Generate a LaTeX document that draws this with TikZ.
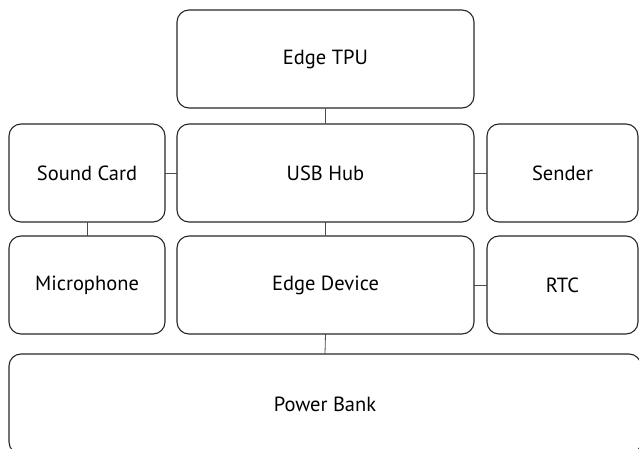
\documentclass[tikz,border=0pt]{standalone}
\usepackage{fontspec}
\setmainfont{PT Sans}
\begin{document}
\begin{tikzpicture}[x=1pt,y=-1pt,
  block/.style={draw=black!85,line width=1.1pt,rounded corners=12pt,
    inner sep=0pt,outer sep=0pt,font=\fontsize{20.5}{24}\selectfont},
  link/.style={draw=black!70,line width=0.8pt}]
\useasboundingbox (0,0) rectangle (639,449);
\clip (0,0) rectangle (639,449);
% top row
\node[block,minimum width=297pt,minimum height=98pt] (tpu) at (325.5,59) {Edge TPU};
% middle rows
\node[block,minimum width=156pt,minimum height=98pt] (sound) at (87,173) {Sound Card};
\node[block,minimum width=297pt,minimum height=98pt] (usb) at (325.5,173) {USB Hub};
\node[block,minimum width=151pt,minimum height=98pt] (sender) at (562.5,173) {Sender};
\node[block,minimum width=156pt,minimum height=98pt] (mic) at (87,285) {Microphone};
\node[block,minimum width=297pt,minimum height=98pt] (dev) at (325.5,285) {Edge Device};
\node[block,minimum width=151pt,minimum height=98pt] (rtc) at (562.5,285) {RTC};
% bottom row
\node[block,minimum width=632pt,minimum height=100pt] (power) at (325,404) {Power Bank};
% connectors
\draw[link] (tpu.south) -- (usb.north);
\draw[link] (usb.south) -- (dev.north);
\draw[link] (dev.south) -- (power.north);
\draw[link] (sound.east) -- (usb.west);
\draw[link] (usb.east) -- (sender.west);
\draw[link] (dev.east) -- (rtc.west);
\draw[link] (sound.south) -- (mic.north);
\end{tikzpicture}
\end{document}
